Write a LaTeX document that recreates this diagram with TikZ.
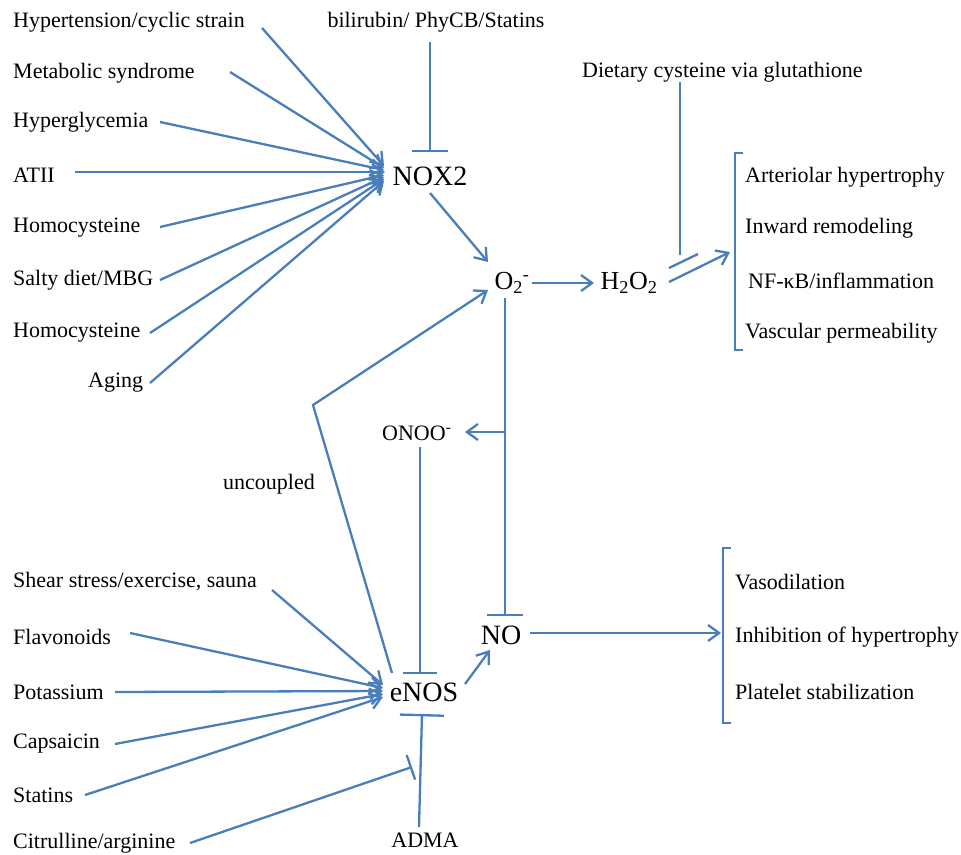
\documentclass[tikz,border=0pt]{standalone}
\usepackage{fontspec}
\setmainfont{Liberation Serif}
\usetikzlibrary{arrows.meta}
\definecolor{lc}{HTML}{4A7EBB}
\begin{document}
\begin{tikzpicture}[x=1pt,y=-1pt,
  lab/.style={font=\fontsize{22}{26}\selectfont, inner sep=0pt, anchor=west},
  midf/.style={font=\fontsize{26}{30}\selectfont, inner sep=0pt},
  big/.style={font=\fontsize{28}{32}\selectfont, inner sep=0pt},
  ln/.style={draw=lc, line width=2.3pt},
  arr/.style={ln, -{Straight Barb[length=11pt,width=16pt]}},
  inh/.style={ln, -{Bar[width=36pt,line width=2.3pt]}},
  brk/.style={ln}]
\useasboundingbox (0,0) rectangle (961,854);
% left inputs to NOX2
\node[lab] (hyp) at (13,22) {Hypertension/cyclic strain};
\node[lab] (met) at (13,73) {Metabolic syndrome};
\node[lab] (hgl) at (13,122) {Hyperglycemia};
\node[lab] (atii) at (13,175) {ATII};
\node[lab] (hcya) at (13,228) {Homocysteine};
\node[lab] (salt) at (13,280) {Salty diet/MBG};
\node[lab] (hcyb) at (13,333) {Homocysteine};
\node[lab] (age) at (88,383) {Aging};
\node[lab,anchor=center] (bili) at (436,22) {bilirubin/ PhyCB/Statins};
\node[big] (nox) at (430,176) {NOX2};
\node[lab] (diet) at (582,72) {Dietary cysteine via glutathione};
\node[midf] (o2) at (512,283) {O\textsubscript{2}\textsuperscript{-}};
\node[midf] (h2o2) at (629,283) {H\textsubscript{2}O\textsubscript{2}};
% right list top
\node[lab] (art) at (745,177) {Arteriolar hypertrophy};
\node[lab] (inw) at (745,228) {Inward remodeling};
\node[lab] (nfkb) at (748,281) {NF-κB/inflammation};
\node[lab] (vasp) at (745,333) {Vascular permeability};
% middle
\node[lab] (onoo) at (382,433) {ONOO\textsuperscript{-}};
\node[lab] (unc) at (223,484) {uncoupled};
% eNOS inputs
\node[lab] (shear) at (13,582) {Shear stress/exercise, sauna};
\node[lab] (flav) at (13,637) {Flavonoids};
\node[lab] (pot) at (13,692) {Potassium};
\node[lab] (cap) at (13,744) {Capsaicin};
\node[lab] (stat) at (13,795) {Statins};
\node[lab] (cit) at (13,843) {Citrulline/arginine};
\node[big] (enos) at (424,692) {eNOS};
\node[big] (no) at (501,635) {NO};
\node[lab,anchor=center] (adma) at (425,840) {ADMA};
% right list bottom
\node[lab] (vaso) at (735,582) {Vasodilation};
\node[lab] (inh) at (735,637) {Inhibition of hypertrophy};
\node[lab] (plat) at (735,692) {Platelet stabilization};

% start coordinates
\coordinate (sHyp) at (262,28);
\coordinate (sMet) at (230,72);
\coordinate (sHgl) at (160,122);
\coordinate (sAtii) at (75,172);
\coordinate (sHcya) at (160,227);
\coordinate (sSalt) at (160,280);
\coordinate (sHcyb) at (150,333);
\coordinate (sAge) at (150,383);
\draw[arr] (sHyp) -- (384,166);
\draw[arr] (sMet) -- (384,168);
\draw[arr] (sHgl) -- (384,170);
\draw[arr] (sAtii) -- (385,172);
\draw[arr] (sHcya) -- (384,175);
\draw[arr] (sSalt) -- (384,177);
\draw[arr] (sHcyb) -- (384,179);
\draw[arr] (sAge) -- (384,181);
% bilirubin inhibit NOX2
\draw[inh] (430,42) -- (430,152);
% NOX2 -> O2
\draw[arr] (430,193) -- (488,262);
% O2 -> H2O2
\draw[arr] (532,283) -- (594,283);
% H2O2 -> bracket
\coordinate (bTopIn) at (730,252);
\draw[arr] (669,282) -- (bTopIn);
% dietary cysteine inhibition
\draw[ln] (680,82) -- (680,255);
\draw[ln] (669,268) -- (698,254);
% top bracket
\draw[brk] (743,153) -- (735,153) -- (735,350) -- (743,350);
% O2 down to NO
\draw[inh] (505,298) -- (505,616);
% ONOO arrow
\draw[arr] (505,432) -- (465,432);
% ONOO inhibit eNOS
\draw[ln,-{Bar[width=34pt,line width=2.3pt]}] (420,447) -- (420,674);
% uncoupled
\draw[arr] (392,673) -- (313,405) -- (488,290);
% eNOS inputs
\draw[arr] (272,590) -- (383,685);
\draw[arr] (130,633) -- (383,688);
\draw[arr] (115,692) -- (383,691);
\draw[arr] (115,744) -- (383,694);
\draw[arr] (85,795) -- (383,697);
% eNOS -> NO
\draw[arr] (465,684) -- (490,650);
% ADMA inhibit eNOS
\draw[ln,-{Bar[width=44pt,line width=2.3pt]}] (419,827) -- (422,714);
% citrulline inhibit ADMA line
\draw[ln,-{Bar[width=26pt,line width=2.3pt]}] (190,843) -- (412,767);
% NO -> bracket
\draw[arr] (530,633) -- (721,633);
% bottom bracket
\draw[brk] (731,548) -- (723,548) -- (723,723) -- (731,723);
\end{tikzpicture}
\end{document}
